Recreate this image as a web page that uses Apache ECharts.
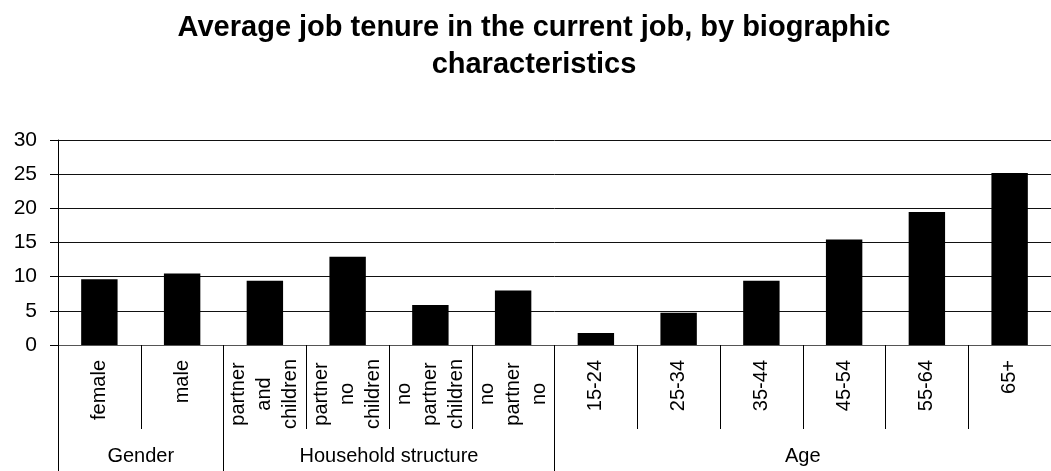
<!DOCTYPE html>
<html>
<head>
<meta charset="utf-8">
<script src="https://cdn.jsdelivr.net/npm/echarts@6/dist/echarts.min.js"></script>
<style>
html,body{margin:0;padding:0;background:#fff;}
#chart{width:1051px;height:471px;}
</style>
</head>
<body>
<div id="chart"></div>
<script>
const titleText = 'Average job tenure in the current job, by biographic\ncharacteristics';
const categories = ['female', 'male', 'partner\nand\nchildren', 'partner\nno\nchildren', 'no\npartner\nchildren', 'no\npartner\nno', '15-24', '25-34', '35-44', '45-54', '55-64', '65+'];
const values = [9.64, 10.47, 9.40, 12.9, 5.84, 7.99, 1.75, 4.72, 9.40, 15.44, 19.48, 25.18];
const groupNames = ['Gender', 'Household structure', 'Age'];
const groupSizes = [2, 4, 6];
const yTicks = { min: 0, max: 30, interval: 5 };

const FONT = '"Liberation Sans", Arial, sans-serif';

// group boundaries and centres in category units
const groupBounds = [0];
const groupCenters = [];
groupSizes.forEach(function (s, i) {
  const start = groupBounds[groupBounds.length - 1];
  groupCenters.push(start + s / 2);
  groupBounds.push(start + s);
});

const chart = echarts.init(document.getElementById('chart'), null, { renderer: 'canvas' });
chart.setOption({
  animation: false,
  backgroundColor: '#fff',
  title: {
    text: titleText,
    left: 529,
    top: 4,
    textAlign: 'center',
    textStyle: { fontFamily: FONT, fontSize: 29, fontWeight: 'bold', color: '#000', lineHeight: 37 }
  },
  grid: { left: 58, right: -8, top: 140, bottom: 126, containLabel: false },
  xAxis: [
    {
      type: 'category',
      data: categories,
      position: 'bottom',
      boundaryGap: true,
      axisLine: { show: true, lineStyle: { color: '#555', width: 1 } },
      axisTick: { show: true, interval: 0, length: 84, inside: false, lineStyle: { color: '#000', width: 1 } },
      axisLabel: {
        interval: 0,
        rotate: 90,
        margin: 15,
        fontFamily: FONT,
        fontSize: 20,
        color: '#000',
        formatter: function (v) {
          if (v.indexOf('\n') < 0) return v;
          return v.split('\n').map(function (s) { return '{c|' + s + '}'; }).join('\n');
        },
        rich: {
          c: { fontFamily: FONT, fontSize: 20, color: '#000', width: 68, align: 'center', lineHeight: 26 }
        }
      },
      splitLine: { show: false }
    },
    {
      type: 'value',
      min: 0,
      max: categories.length,
      position: 'bottom',
      axisLine: { show: false },
      splitLine: { show: false },
      axisTick: { show: true, length: 130, customValues: groupBounds, lineStyle: { color: '#000', width: 1 } },
      axisLabel: {
        show: true,
        customValues: groupCenters,
        margin: 101,
        fontFamily: FONT,
        fontSize: 20,
        color: '#000',
        formatter: function (v) {
          const i = groupCenters.indexOf(v);
          return i >= 0 ? groupNames[i] : '';
        }
      }
    }
  ],
  yAxis: {
    type: 'value',
    min: yTicks.min,
    max: yTicks.max,
    interval: yTicks.interval,
    axisLine: { show: true, lineStyle: { color: '#000', width: 1 } },
    axisTick: { show: true, length: 8, lineStyle: { color: '#000', width: 1 } },
    axisLabel: { fontFamily: FONT, fontSize: 21, color: '#000', margin: 21 },
    splitLine: { show: true, lineStyle: { color: '#111', width: 1 } }
  },
  series: [
    {
      type: 'bar',
      xAxisIndex: 0,
      data: values,
      barWidth: '44%',
      itemStyle: { color: '#000' }
    }
  ]
});
</script>
</body>
</html>
